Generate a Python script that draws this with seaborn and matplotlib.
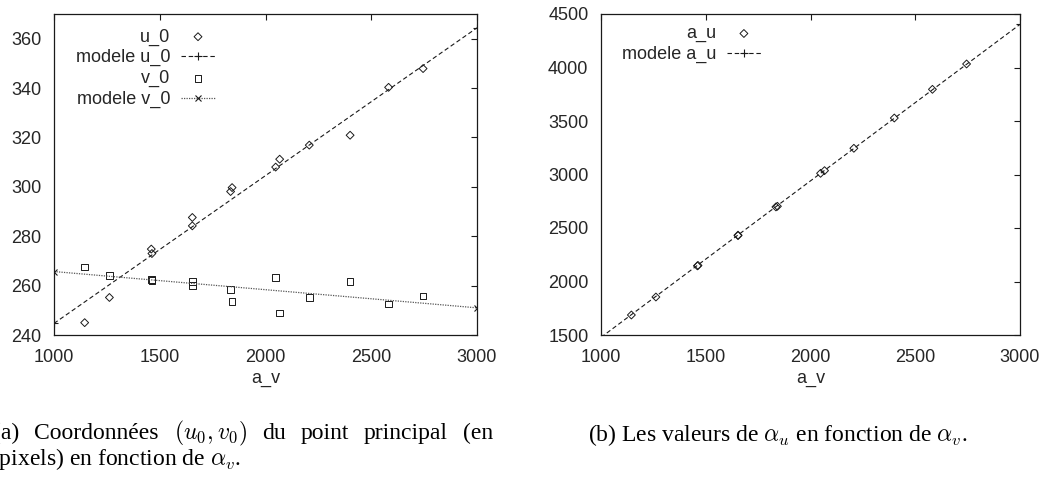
import matplotlib
matplotlib.use('Agg')
import matplotlib.pyplot as plt
import seaborn as sns

# valeurs
a_v = [1145, 1262, 1460, 1463, 1654, 1654, 1835, 1842, 2048, 2067, 2207, 2400, 2582, 2745]
u_0 = [245.0, 255.2, 274.8, 273.0, 287.6, 284.2, 298.1, 299.7, 308.0, 311.2, 316.9, 320.9, 340.3, 347.9]
v_0 = [267.6, 264.0, 262.5, 262.1, 261.6, 260.1, 258.5, 253.6, 263.3, 248.9, 255.1, 261.6, 252.5, 255.8]
a_u = [1687, 1855, 2146, 2150, 2429, 2433, 2697, 2703, 3011, 3036, 3245, 3528, 3796, 4033]

model_x = [1000, 3000]
model_u = [244.7, 364.4]
model_v = [265.7, 251.0]
model_au = [1478, 4403]

x_ticks = [1000, 1500, 2000, 2500, 3000]
left_yticks = [240, 260, 280, 300, 320, 340, 360]
right_yticks = [1500, 2000, 2500, 3000, 3500, 4000, 4500]

sns.set_style("white")
plt.rcParams['font.family'] = ['Liberation Sans', 'DejaVu Sans']
plt.rcParams['mathtext.fontset'] = 'cm'

W, H = 1047, 478
fig = plt.figure(figsize=(W / 100, H / 100), dpi=100)
ax1 = fig.add_axes([54 / W, 1 - 335 / H, 423 / W, 321 / H])
ax2 = fig.add_axes([601 / W, 1 - 335 / H, 419 / W, 321 / H])

ink = '#1a1a1a'

# panneau (a)
sns.scatterplot(x=a_v, y=u_0, ax=ax1, marker='D', s=16, color=ink, fc='none', ec=ink,
                linewidth=0.7, label='u_0')
sns.lineplot(x=model_x, y=model_u, ax=ax1, color=ink, linewidth=0.8, linestyle=(0, (4, 2.5)),
             marker='+', markersize=6, mec=ink, mew=0.8, label='modele u_0')
sns.scatterplot(x=a_v, y=v_0, ax=ax1, marker='s', s=22, color=ink, fc='none', ec=ink,
                linewidth=0.7, label='v_0')
sns.lineplot(x=model_x, y=model_v, ax=ax1, color='#555555', linewidth=0.9, linestyle=(0, (1, 1)),
             marker='x', markersize=5, mec=ink, mew=0.8, label='modele v_0')
ax1.set_ylim(240, 370)
ax1.set_yticks(left_yticks)

# panneau (b)
sns.scatterplot(x=a_v, y=a_u, ax=ax2, marker='D', s=16, color=ink, fc='none', ec=ink,
                linewidth=0.7, label='a_u')
sns.lineplot(x=model_x, y=model_au, ax=ax2, color=ink, linewidth=0.8, linestyle=(0, (4, 2.5)),
             marker='+', markersize=6, mec=ink, mew=0.8, label='modele a_u')
ax2.set_ylim(1500, 4500)
ax2.set_yticks(right_yticks)

for ax, anchor in [(ax1, (0.381, 0.955)), (ax2, (0.382, 0.965))]:
    ax.set_xlim(1000, 3000)
    ax.set_xticks(x_ticks)
    ax.set_xlabel('a_v', fontsize=13, labelpad=3)
    ax.tick_params(direction='in', top=True, right=True, length=4, width=0.8,
                   labelsize=13, color=ink)
    ax.tick_params(axis='x', pad=10)
    ax.tick_params(axis='y', pad=9)
    for sp in ax.spines.values():
        sp.set_color(ink)
        sp.set_linewidth(0.9)
    ax.legend(loc='upper right', bbox_to_anchor=anchor, frameon=False, markerfirst=False,
              fontsize=13, borderpad=0, borderaxespad=0, handlelength=1.9,
              handletextpad=0.6, labelspacing=0.2)

# légendes des sous-figures
cap = dict(family=['Liberation Serif', 'DejaVu Serif'], fontsize=17, color='black')


def justify(words, x0, x1, y):
    r = fig.canvas.get_renderer()
    texts = [fig.text(0, y / H, w, va='baseline', **cap) for w in words]
    widths = [t.get_window_extent(r).width for t in texts]
    gap = (x1 - x0 - sum(widths)) / (len(words) - 1)
    x = x0
    for t, w in zip(texts, widths):
        t.set_x(x / W)
        x += w + gap


justify(['(a)', 'Coordonnées', r'$(u_0, v_0)$', 'du', 'point', 'principal', '(en'],
        -7, 493, H - 439)
fig.text(-9 / W, (H - 465) / H, r'(pixels) en fonction de $\alpha_v$.', va='baseline', **cap)
fig.text(588 / W, (H - 441) / H, r'(b) Les valeurs de $\alpha_u$ en fonction de $\alpha_v$.',
         va='baseline', **cap)

fig.savefig('out.png', dpi=100)
